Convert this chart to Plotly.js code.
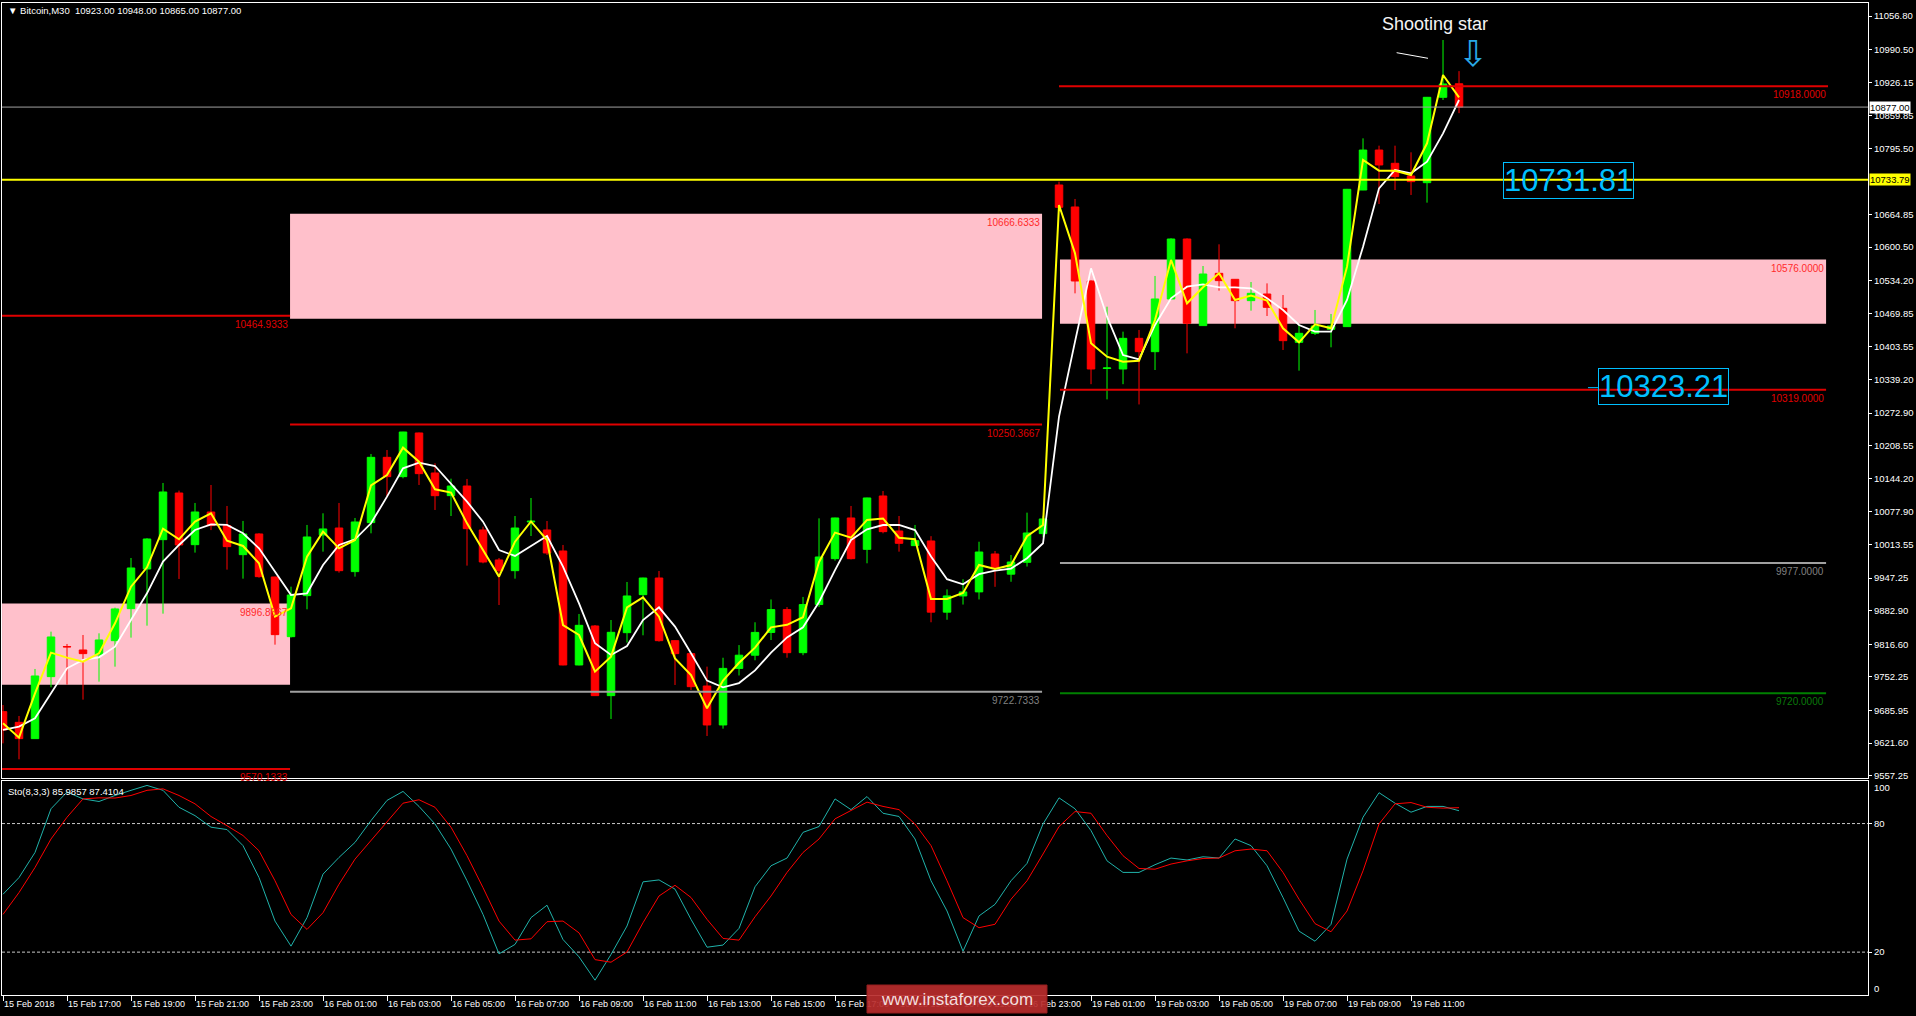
<!DOCTYPE html>
<html><head><meta charset="utf-8">
<script src="https://cdn.plot.ly/plotly-3.0.1.min.js"></script>
<style>html,body{margin:0;padding:0;background:#000;overflow:hidden}#chart{width:1916px;height:1016px}</style>
</head><body><div id="chart"></div>
<script>
// ---------- DATA (Bitcoin M30, 15 Feb 15:00 .. 19 Feb 12:30) ----------
const openP = [9683.6,9662.5,9630.3,9752.7,9812,9805.3,9795.5,9823.7,9886.9,9965.2,
10023.1,10115.2,10013.2,10077.7,10050.8,9993.5,10034.3,9949.4,9831.6,9912.6,
10032.3,10046.1,9960,10056.7,10185.6,10147.5,10233.7,10154.7,10110,10129,
10042.2,9983,9961.9,10058,10042.2,10000.7,9775.7,9852.7,9715.2,9839.5,
9914.5,9947.4,9823.7,9798.1,9734.2,9657.3,9769,9795,9840,9885,
9800,9895,9985.6,10065.9,10004,10109.3,10040.2,10011.3,10020.5,9880,
9912,9920,9994.8,9955,9978.4,10035,10723.2,10679.8,10533.7,10361,
10360,10420.5,10394.2,10498.2,10616.6,10445.6,10548.8,10537,10494.9,10508,
10479.8,10412.6,10430.4,10438.3,10443.6,10713.3,10792.2,10766,10741,10727.8,
10896.3,10923];
const highP = [9696.7,9675,9767.8,9841.5,9817.2,9834.9,9838.2,9888.9,9986.9,10026,
10135,10120,10095.5,10131,10089.6,10060,10036,9950,9930.3,10052.1,
10075.1,10095.5,10065.9,10192.2,10200.1,10236,10234.5,10173.8,10143.5,10142.9,
10048.8,9986.9,10069.8,10105.3,10059.9,10012.6,9876.4,9854.6,9864.5,9939.5,
9948,9961.2,9824.5,9798.8,9772.4,9790,9815,9860,9905,9890,
9910,10065.2,10066.5,10089.6,10106,10119.2,10069.8,10052.1,10030,9925,
9945,10019,10000.7,9992.8,10076.4,10070,10729.8,10695.6,10535,10483,
10433.7,10437,10543.6,10618,10618,10563.3,10606.1,10537.5,10531.7,10529,
10506,10446.8,10476.5,10468.6,10715.5,10815.3,10800.8,10800.8,10787.7,10897,
11009.4,10948];
const lowP = [9621,9589.5,9630,9731.6,9736.9,9707.3,9742.8,9772.4,9829.7,9853.3,
9877,9945.5,9997.5,10042,9963.9,9946.1,9948,9815.8,9830,9885.6,
9999.4,9958,9950.1,10035.6,10108,10144.2,10131,10081.7,10069.8,9971.8,
9976.4,9894.1,9946.1,10030.3,9992.8,9775,9775,9714.5,9669.1,9819.8,
9834.3,9821.8,9736.2,9726.3,9635.5,9650,9755,9785,9825,9790,
9795,9890,9981.7,9984,9976.4,10035.6,9999.4,10010.5,9860,9865,
9895,9905,9930,9940,9970,10028,10670,10509.3,10330,10300,
10330,10290,10358,10497,10390.9,10445,10514.6,10440.3,10475.1,10464.6,
10397.5,10356.7,10427.1,10402.8,10443,10713,10685.7,10713.3,10703.5,10688.3,
10891,10865];
const closeP = [9647.4,9630.3,9754,9831,9811.5,9798.1,9825.1,9886.3,9967.2,10024.4,
10117.2,10012.6,10077.7,10050.8,10009.3,10034.3,9950.1,9835.6,9913.9,10028.4,
10044.2,9961.9,10058,10185.6,10147.5,10235.6,10153.4,10109.9,10129,10044.8,
9979,9961.9,10046.1,10059.5,9996.8,9775.7,9854,9715.2,9840.2,9911.9,
9947.4,9823.7,9798.1,9732.9,9657.3,9769,9795,9840,9885,9800,
9895,9988.9,10065.9,9985.6,10105.4,10038.9,10015.9,10021.1,9880,9912,
9920,9998.7,9966.5,9979,10036.3,10064,10679.1,10533.7,10360,10362,
10420.5,10394.2,10498.2,10616.6,10450.2,10547.5,10534.4,10494.9,10509.4,10481.7,
10415.9,10430.4,10444.9,10444.9,10714.7,10792.2,10762.7,10739.7,10729.8,10896.3,
10922.6,10877];
// fast (yellow) and slow (white) moving averages
const maFast = [9660.6,9632.3,9719.8,9800.1,9790.2,9782.3,9798.7,9858.0,9930.3,9968.5,
10044.8,10023.8,10058.6,10075.1,10021.1,10010.6,9976.4,9871.1,9887.6,9989.6,
10038.9,10006.0,10022.5,10130.0,10150.7,10204.7,10177.1,10122.5,10115.9,10055.3,
10002.7,9950.1,10019.1,10059.0,10022.4,9854.6,9834.9,9762.5,9792.1,9889.5,
9909.3,9871.1,9788.8,9756.0,9690.1,9745,9780,9810,9850,9855,
9870,9979,10037,10027,10062,10065,10027,10024,9906,9906,
9918,9973,9965,9973,10030,10052,10683.7,10588.3,10410.7,10384.3,
10374.5,10376.4,10456.7,10575.2,10489.6,10521.2,10548.8,10496.2,10504.8,10494.9,
10440.3,10412.6,10448.2,10440.3,10562.0,10772.6,10751.5,10751.5,10743.0,10805.5,
10940.4,10896.3];
const maSlow = [9647.4,9654.0,9670.4,9719.8,9769.1,9785.6,9790.8,9811.9,9864.5,9917.2,
9979.7,10012.6,10042.2,10053.4,10052.1,10035.6,10006.0,9960.0,9913.9,9917.2,
9973.1,10012.6,10023.8,10055.4,10108.0,10163.9,10175.1,10168.5,10134.3,10098.1,
10058.6,10002.7,9990.9,10010.6,10030.3,9969.8,9897.4,9818.5,9795.4,9813.2,
9864.5,9889.5,9851.4,9798.7,9744.8,9731.6,9740,9765,9800,9830,
9850,9900,9963,10022.5,10043.5,10052,10052,10042,9990,9945,
9935,9955,9962,9966,9986.5,10016,10266,10414,10558.7,10463.3,
10387.6,10379.1,10446.9,10499.5,10522.5,10527.1,10521.2,10521.2,10519.2,10499.5,
10476.5,10446.9,10433.7,10433.7,10496.2,10601.5,10716.6,10752.8,10746.2,10769.3,
10825.2,10891.0];
// Stochastic(8,3,3)
const stochMain = [47.0,54.8,66.5,86.9,94.7,91.5,90.3,93.1,95.5,97.8,
95.5,87.6,83.7,78.3,77.2,69.7,54.8,34.5,22.8,36.1,
56.4,64.2,71.2,81.4,90.8,95.0,88.0,79.8,68.1,53.3,
37.6,19.2,23.6,36.1,41.9,25.9,17.8,6.9,18.9,32.2,
52.8,53.7,49.4,35.3,22.3,23.3,31.1,50.5,60.3,63.9,
75.9,78.6,91.5,86.5,92.6,84.8,83.3,72.8,53.3,39.2,
20.45,36.9,42.3,53.3,61.4,79.8,92.0,86.9,76.7,62.6,
57.2,57.2,60.8,63.9,63.0,64.5,63.9,72.8,69.7,60.3,
45.45,29.8,25.1,32.95,63.4,82.95,94.4,89.5,85.3,88.0,
88.0,85.99];
const stochSignal = [37.6,47.8,59.5,72.8,82.95,91.5,92.0,91.9,93.1,95.5,
96.2,93.1,89.2,83.3,79.0,74.4,67.3,53.3,37.6,30.6,
38.4,51.7,63.4,72.0,80.6,89.5,91.1,87.6,78.3,65.0,
50.1,34.5,25.6,26.2,34.2,34.5,29.0,16.5,15.3,20.1,
33.7,46.2,51.2,45.5,35.3,26.4,25.6,36.5,46.2,57.2,
66.5,72.8,82.2,86.1,90.0,88.0,86.5,79.8,69.7,53.3,
36.1,31.4,33.0,44.7,53.3,65.8,78.6,85.6,84.8,74.4,
65.0,59.05,58.7,61.1,62.6,63.7,63.9,67.3,68.1,67.3,
57.2,44.7,33.3,29.5,39.2,57.95,79.8,89.2,89.8,87.6,
87.2,87.41];
const timeLabels = ['15 Feb 2018','15 Feb 17:00','15 Feb 19:00','15 Feb 21:00','15 Feb 23:00',
'16 Feb 01:00','16 Feb 03:00','16 Feb 05:00','16 Feb 07:00','16 Feb 09:00','16 Feb 11:00',
'16 Feb 13:00','16 Feb 15:00','16 Feb 17:00','16 Feb 19:00','16 Feb 21:00','16 Feb 23:00',
'19 Feb 01:00','19 Feb 03:00','19 Feb 05:00','19 Feb 07:00','19 Feb 09:00','19 Feb 11:00'];
const priceTicks = [11056.80,10990.50,10926.15,10859.85,10795.50,10664.85,10600.50,10534.20,
10469.85,10403.55,10339.20,10272.90,10208.55,10144.20,10077.90,10013.55,9947.25,9882.90,
9816.60,9752.25,9685.95,9621.60,9557.25];
const stochTicks = [20, 80];
// horizontal levels: price, label, colour kind, bar range
const levelPrice = [9570.1333,10464.9333,9722.7333,10250.3667,10918,10319,9977,9720];
const levelText  = ['9570.1333','10464.9333','9722.7333','10250.3667','10918.0000','10319.0000','9977.0000','9720.0000'];
const levelKind  = ['red','red','gray','red','red','red','gray','green'];
const levelFrom  = [-0.06,-0.06,17.94,17.94,66.0,66.06,66.06,66.06];
const levelTo    = [17.94,17.94,64.94,64.94,114.06,113.94,113.94,113.94];
// pink zones
const zoneTop    = [9896.8667,10666.6333,10576];
const zoneBottom = [9736.8,10459,10449.4];
const zoneText   = ['9896.8667','10666.6333','10576.0000'];
const zoneFrom   = [-0.06,17.94,66.06];
const zoneTo     = [17.94,64.94,113.94];
const supportLine = 10733.79;
const bidPrice = 10877.00;
const boxLabels = [{text:'10731.81', price:10732.1, bar:93.73},{text:'10323.21', price:10324.5, bar:99.69}];
const header = 'Bitcoin,M30\u00a0\u00a010923.00 10948.00 10865.00 10877.00';
const stochTitle = 'Sto(8,3,3) 85.9857 87.4104';

// ---------- CHART ----------
const bars = closeP.map((_, i) => i);
const FONT = 'Liberation Sans, Arial, sans-serif';
const colorOf = {red:'#e00000', gray:'#a0a0a0', green:'#008000'};
const labelColorOf = {red:'#e00000', gray:'#808080', green:'#0a7a0a'};
const W = 1916, H = 1016, L = 2, R = 48, T = 3, B = 21;
const plotW = W - L - R, plotH = H - T - B;
const py = yPix => (H - B - yPix) / plotH;
const px = xPix => (xPix - L) / plotW;

const traces = [
  {type:'candlestick', x:bars, open:openP, high:highP, low:lowP, close:closeP,
   xaxis:'x', yaxis:'y', whiskerwidth:0, hoverinfo:'skip',
   increasing:{line:{color:'#00ff00', width:1}, fillcolor:'#00ff00'},
   decreasing:{line:{color:'#ff0000', width:1}, fillcolor:'#ff0000'}},
  {type:'scatter', mode:'lines', x:bars, y:maSlow, xaxis:'x', yaxis:'y', line:{color:'#ffffff', width:1.8}, hoverinfo:'skip'},
  {type:'scatter', mode:'lines', x:bars, y:maFast, xaxis:'x', yaxis:'y', line:{color:'#ffff00', width:2}, hoverinfo:'skip'},
  {type:'scatter', mode:'lines', x:bars, y:stochMain, xaxis:'x2', yaxis:'y2', line:{color:'#20b2aa', width:1}, hoverinfo:'skip'},
  {type:'scatter', mode:'lines', x:bars, y:stochSignal, xaxis:'x2', yaxis:'y2', line:{color:'#ff0000', width:1}, hoverinfo:'skip'}
];

const shapes = [];
const annotations = [];
zoneTop.forEach((t, k) => {
  shapes.push({type:'rect', xref:'x', yref:'y', x0:zoneFrom[k], x1:zoneTo[k], y0:zoneBottom[k], y1:t,
    fillcolor:'#ffc0cb', line:{width:0}, layer:'below'});
  annotations.push({xref:'x', yref:'y', x:zoneTo[k], y:t, text:zoneText[k], showarrow:false,
    xanchor:'right', yanchor:'top', yshift:-1, font:{family:FONT, size:10, color:'#ff2a2a'}});
});
levelPrice.forEach((p, k) => {
  shapes.push({type:'line', xref:'x', yref:'y', x0:levelFrom[k], x1:levelTo[k], y0:p, y1:p,
    line:{color:colorOf[levelKind[k]], width:2}, layer:'above'});
  annotations.push({xref:'x', yref:'y', x:levelTo[k], y:p, text:levelText[k], showarrow:false,
    xanchor:'right', yanchor:'top', yshift:-1, font:{family:FONT, size:10, color:labelColorOf[levelKind[k]]}});
});
shapes.push({type:'line', xref:'paper', yref:'y', x0:0, x1:1, y0:bidPrice, y1:bidPrice, line:{color:'#a0a0a0', width:1}, layer:'above'});
shapes.push({type:'line', xref:'paper', yref:'y', x0:0, x1:1, y0:supportLine, y1:supportLine, line:{color:'#ffff00', width:2}, layer:'above'});
stochTicks.forEach(v => shapes.push({type:'line', xref:'paper', yref:'y2', x0:0, x1:1, y0:v, y1:v,
  line:{color:'#c8c8c8', width:1, dash:'3px,2px'}, layer:'below'}));
shapes.push({type:'line', xref:'x', yref:'y', x0:87.1, x1:89.06, y0:10984.4, y1:10973.3, line:{color:'#ffffff', width:1}});
shapes.push({type:'line', xref:'x', yref:'y', x0:99.06, x1:99.69, y0:10323.2, y1:10323.2, line:{color:'#00bfff', width:1}});
shapes.push({type:'rect', xref:'paper', yref:'paper', x0:px(867), x1:px(1047), y0:py(1013), y1:py(985),
  fillcolor:'rgba(185,45,45,0.92)', line:{color:'rgba(150,30,30,1)', width:1}, layer:'above'});

annotations.push({xref:'paper', yref:'y', x:px(1869), y:bidPrice, text:'10877.00', showarrow:false,
  xanchor:'left', yanchor:'middle', bgcolor:'#ffffff', borderpad:0, font:{family:FONT, size:9.5, color:'#000000'}});
annotations.push({xref:'paper', yref:'y', x:px(1869), y:supportLine, text:'10733.79', showarrow:false,
  xanchor:'left', yanchor:'middle', bgcolor:'#ffff00', borderpad:0, font:{family:FONT, size:9.5, color:'#000000'}});
boxLabels.forEach(b => annotations.push({xref:'x', yref:'y', x:b.bar, y:b.price, text:b.text, showarrow:false,
  xanchor:'left', yanchor:'middle', bordercolor:'#00bfff', borderwidth:1, borderpad:0,
  font:{family:FONT, size:31, color:'#00bfff'}}));
annotations.push({xref:'x', yref:'y', x:89.5, y:11041, text:'Shooting star', showarrow:false,
  xanchor:'center', yanchor:'middle', font:{family:FONT, size:18, color:'#f4f4f4'}});
annotations.push({xref:'x', yref:'y', x:91.85, y:10982, text:'\u21e9', showarrow:false,
  xanchor:'center', yanchor:'middle', font:{family:'DejaVu Sans', size:36, color:'#29a9e6'}});
annotations.push({xref:'paper', yref:'paper', x:px(6), y:py(10.7), text:'\u25bc\u00a0' + header, showarrow:false,
  xanchor:'left', yanchor:'middle', font:{family:FONT, size:9.5, color:'#ffffff'}});
annotations.push({xref:'paper', yref:'paper', x:px(6), y:py(791), text:stochTitle, showarrow:false,
  xanchor:'left', yanchor:'middle', font:{family:FONT, size:9.5, color:'#ffffff'}});
annotations.push({xref:'paper', yref:'paper', x:px(1872), y:py(787), text:'100', showarrow:false,
  xanchor:'left', yanchor:'middle', font:{family:FONT, size:9.5, color:'#ffffff'}});
annotations.push({xref:'paper', yref:'paper', x:px(1872), y:py(988), text:'0', showarrow:false,
  xanchor:'left', yanchor:'middle', font:{family:FONT, size:9.5, color:'#ffffff'}});
annotations.push({xref:'paper', yref:'paper', x:px(957), y:py(999), text:'www.instaforex.com', showarrow:false,
  xanchor:'center', yanchor:'middle', font:{family:FONT, size:17, color:'#f3dede'}});

const xr = [-0.0625, 116.56];
const layout = {
  width:W, height:H, margin:{l:L, r:R, t:T, b:B, pad:0},
  paper_bgcolor:'#000000', plot_bgcolor:'#000000', showlegend:false, hovermode:false, dragmode:false,
  font:{family:FONT, color:'#ffffff', size:9.5}, boxgap:0.33,
  xaxis:{domain:[0,1], range:xr, type:'linear', anchor:'y', showticklabels:false, ticks:'', showgrid:false,
    zeroline:false, showline:true, mirror:true, linecolor:'#ffffff', linewidth:1, rangeslider:{visible:false}},
  yaxis:{domain:[py(778), 1], range:[9552.6, 11082.46], side:'right', anchor:'x', showgrid:false, zeroline:false,
    tickvals:priceTicks, ticktext:priceTicks.map(v => v.toFixed(2)), ticks:'outside', ticklen:3,
    tickcolor:'#ffffff', tickfont:{family:FONT, size:9.5, color:'#ffffff'},
    showline:true, mirror:true, linecolor:'#ffffff', linewidth:1},
  xaxis2:{domain:[0,1], range:xr, type:'linear', anchor:'y2', matches:'x', showgrid:false, zeroline:false,
    tickvals:timeLabels.map((_, k) => 4 * k), ticktext:timeLabels, ticks:'outside', ticklen:5, tickangle:0,
    tickcolor:'#ffffff', ticklabelposition:'outside right', tickfont:{family:FONT, size:9, color:'#ffffff'},
    showline:true, mirror:true, linecolor:'#ffffff', linewidth:1, rangeslider:{visible:false}},
  yaxis2:{domain:[0, py(780.7)], range:[0,100], side:'right', anchor:'x2', showgrid:false, zeroline:false,
    tickvals:stochTicks, ticktext:stochTicks.map(String), ticks:'outside', ticklen:3,
    tickcolor:'#ffffff', tickfont:{family:FONT, size:9.5, color:'#ffffff'},
    showline:true, mirror:true, linecolor:'#ffffff', linewidth:1},
  shapes:shapes, annotations:annotations
};
Plotly.newPlot('chart', traces, layout, {staticPlot:true, displayModeBar:false});
</script>
</body></html>
